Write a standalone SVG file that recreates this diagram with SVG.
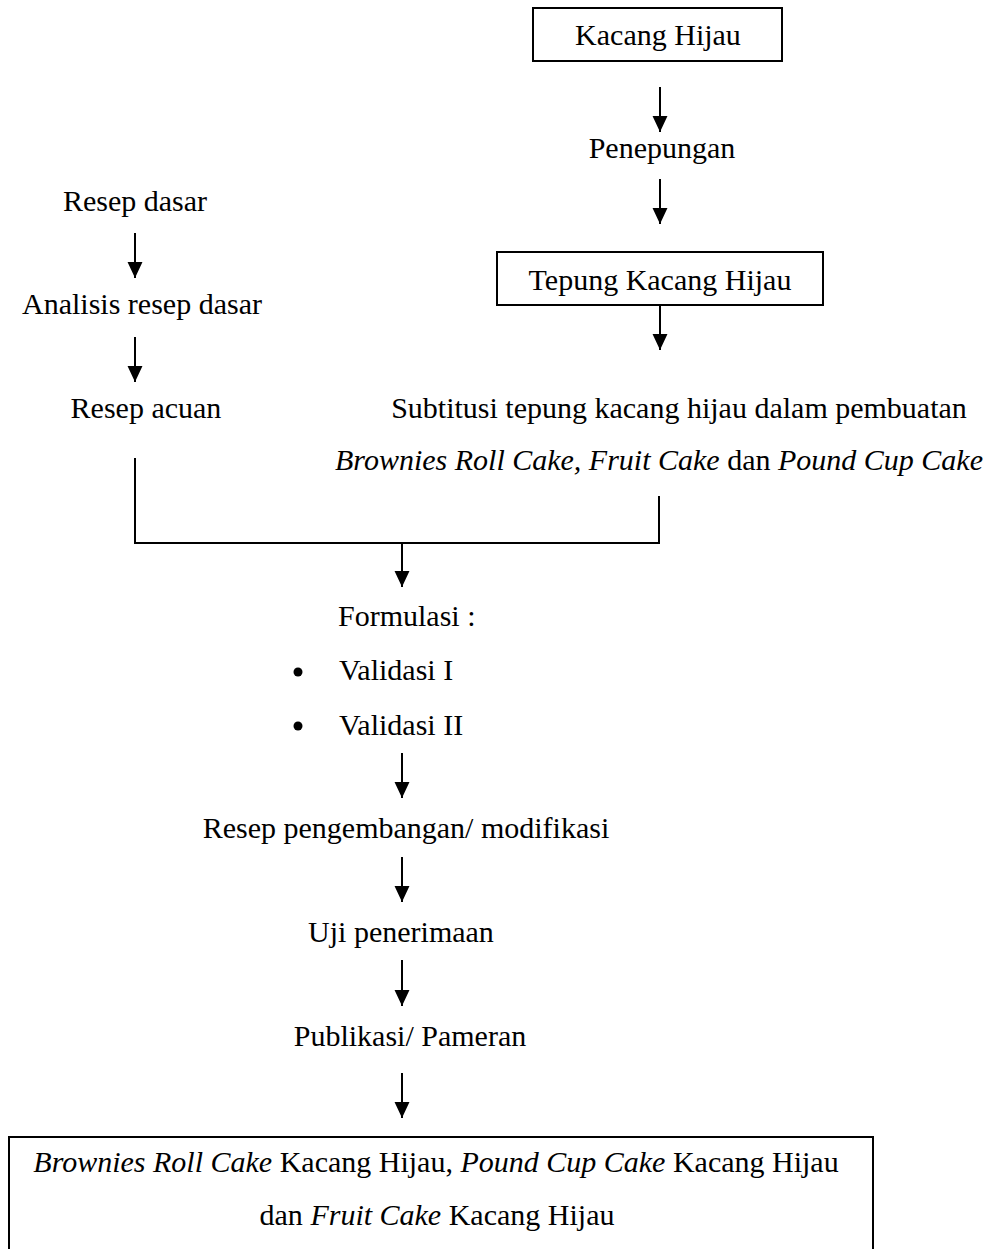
<svg xmlns="http://www.w3.org/2000/svg" width="992" height="1249" viewBox="0 0 992 1249">
<style>
text{font-family:"Liberation Serif","Times New Roman",serif;font-size:30px;fill:#000}
.c{text-anchor:middle}
.i{font-style:italic}
.box{fill:none;stroke:#000;stroke-width:2}
.ln{fill:none;stroke:#000;stroke-width:2}
</style>
<defs>
<marker id="ah" markerUnits="userSpaceOnUse" markerWidth="16" markerHeight="16" viewBox="0 0 15 14" refX="15" refY="7" orient="auto">
<path d="M0,0 L15,7 L0,14 Z" fill="#000"/>
</marker>
</defs>
<rect width="992" height="1249" fill="#fff"/>
<g id="n-kacang"><rect class="box" x="533" y="8" width="249" height="53"/><text class="c" x="658" y="45">Kacang Hijau</text></g>
<g id="n-penepungan"><text class="c" x="662" y="158">Penepungan</text></g>
<g id="n-tepung"><rect class="box" x="497" y="252" width="326" height="53"/><text class="c" x="660" y="290">Tepung Kacang Hijau</text></g>
<g id="n-subtitusi"><text class="c" x="679" y="418">Subtitusi tepung kacang hijau dalam pembuatan</text><text class="c" x="659" y="470"><tspan class="i">Brownies Roll Cake, Fruit Cake</tspan> dan <tspan class="i">Pound Cup Cake</tspan></text></g>
<g id="n-resepdasar"><text class="c" x="135" y="211">Resep dasar</text></g>
<g id="n-analisis"><text class="c" x="142" y="314">Analisis resep dasar</text></g>
<g id="n-acuan"><text class="c" x="146" y="418">Resep acuan</text></g>
<g id="n-formulasi"><text x="338" y="626">Formulasi :</text><circle cx="298" cy="672" r="4.5" fill="#000"/><text x="339" y="680">Validasi I</text><circle cx="298" cy="726" r="4.5" fill="#000"/><text x="339" y="735">Validasi II</text></g>
<g id="n-pengembangan"><text class="c" x="406" y="838">Resep pengembangan/ modifikasi</text></g>
<g id="n-uji"><text class="c" x="401" y="942">Uji penerimaan</text></g>
<g id="n-publikasi"><text class="c" x="410" y="1046">Publikasi/ Pameran</text></g>
<g id="n-hasil"><rect class="box" x="9" y="1137" width="864" height="140"/><text class="c" x="436" y="1172"><tspan class="i">Brownies Roll Cake</tspan> Kacang Hijau, <tspan class="i">Pound Cup Cake</tspan> Kacang Hijau</text><text class="c" x="437" y="1225">dan <tspan class="i">Fruit Cake</tspan> Kacang Hijau</text></g>
<g id="connectors">
<line class="ln" x1="660" y1="87" x2="660" y2="132" marker-end="url(#ah)"/>
<line class="ln" x1="660" y1="179" x2="660" y2="224" marker-end="url(#ah)"/>
<line class="ln" x1="660" y1="305" x2="660" y2="350" marker-end="url(#ah)"/>
<line class="ln" x1="135" y1="233" x2="135" y2="278" marker-end="url(#ah)"/>
<line class="ln" x1="135" y1="337" x2="135" y2="382" marker-end="url(#ah)"/>
<polyline class="ln" points="135,458 135,543 659,543 659,496"/>
<line class="ln" x1="402" y1="543" x2="402" y2="587" marker-end="url(#ah)"/>
<line class="ln" x1="402" y1="753" x2="402" y2="798" marker-end="url(#ah)"/>
<line class="ln" x1="402" y1="857" x2="402" y2="902" marker-end="url(#ah)"/>
<line class="ln" x1="402" y1="960" x2="402" y2="1006" marker-end="url(#ah)"/>
<line class="ln" x1="402" y1="1073" x2="402" y2="1118" marker-end="url(#ah)"/>
</g>
</svg>
